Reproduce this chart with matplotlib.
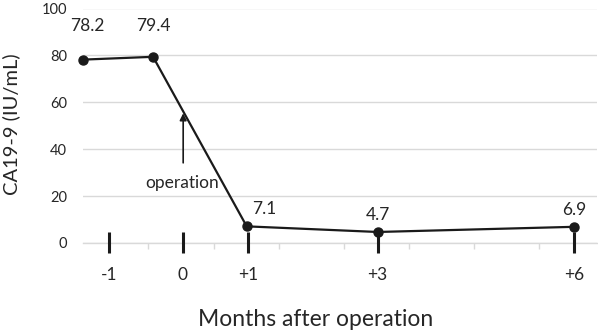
import matplotlib
matplotlib.use("Agg")
import matplotlib.pyplot as plt
import numpy as np

plt.rcParams["font.family"] = ["Lato", "DejaVu Sans"]

# data
months = [-1.5, -0.43, 1, 3, 6]          # x position of each measurement (months)
ca199 = [78.2, 79.4, 7.1, 4.7, 6.9]       # CA19-9 (IU/mL)
tick_pos = [-1.1, 0.02, 1.02, 3, 6]
tick_labels = ["-1", "0", "+1", "+3", "+6"]

W, H = 598, 336
fig = plt.figure(figsize=(W / 100, H / 100), dpi=100)
ax = fig.add_axes([83 / W, (336 - 243) / H, 514 / W, 234.5 / H])

ax.set_xlim(-1.5, 6.35)
ax.set_ylim(0, 100)

# grid
ax.set_yticks([0, 20, 40, 60, 80, 100])
ax.grid(axis="y", color="#d9d9d9", linewidth=1.0)
ax.set_axisbelow(True)
for s in ["top", "right", "left"]:
    ax.spines[s].set_visible(False)
ax.spines["bottom"].set_color("#d9d9d9")
ax.spines["bottom"].set_linewidth(1.0)
ax.set_xticks(np.arange(-0.5, 6.0, 0.995))
ax.set_xticklabels([])
ax.tick_params(axis="x", length=4, width=1.0, color="#d9d9d9")
ax.tick_params(axis="y", length=0, pad=11.5, labelsize=10.5, labelcolor="#262626")

# series
ax.plot(months, ca199, color="#1a1a1a", linewidth=1.6, marker="o",
        markersize=6.5, zorder=5, clip_on=False)

# thick time marks under the axis
for x in tick_pos:
    ax.plot([x, x], [4.5, -4.2], color="#1a1a1a", linewidth=2.2,
            clip_on=False, zorder=6, solid_capstyle="butt")
for x, lab in zip(tick_pos, tick_labels):
    ax.text(x, -13.6, lab, ha="center", va="center", fontsize=12.5,
            color="#262626", clip_on=False)

# value labels
offsets = [(0.06, 14.5), (0.0, 13.2), (0.27, 7.3), (0.0, 7.3), (0.0, 7.3)]
for x, y, (dx, dy) in zip(months, ca199, offsets):
    ax.text(x + dx, y + dy, f"{y:.1f}", ha="center", va="center",
            fontsize=12.5, color="#262626")

# operation arrow
ax.annotate("", xy=(0.03, 56.5), xytext=(0.03, 33),
            arrowprops=dict(arrowstyle="-|>", color="#1a1a1a", lw=1.2,
                            mutation_scale=10))
ax.text(0.02, 25.6, "operation", ha="center", va="center", fontsize=12.5,
        color="#262626")

fig.text(11 / W, 1 - 124 / H, "CA19-9 (IU/mL)", rotation=90, ha="center",
         va="center", fontsize=14.5, color="#262626")
fig.text(316 / W, 1 - 320 / H, "Months after operation", ha="center",
         va="center", fontsize=16.5, color="#262626")

fig.savefig("out.png", dpi=100, facecolor="white")
